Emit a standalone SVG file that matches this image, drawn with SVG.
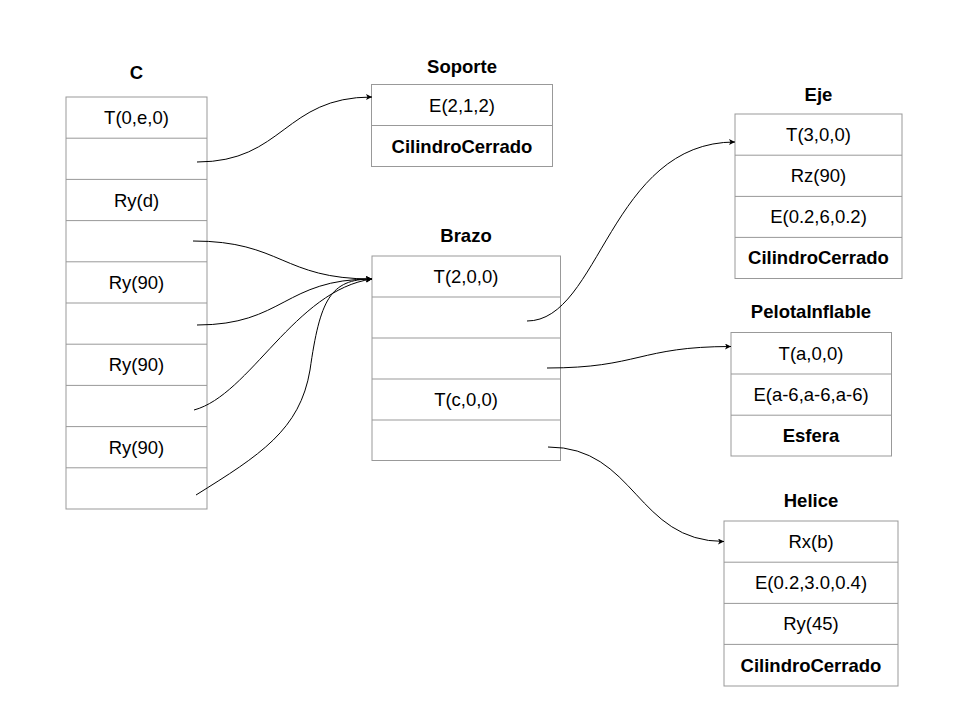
<svg xmlns="http://www.w3.org/2000/svg" width="960" height="720" viewBox="0 0 960 720">
<style>
.box rect { fill: #ffffff; stroke: #999999; stroke-width: 1; }
.box line { stroke: #999999; stroke-width: 1; }
text { font-family: "Liberation Sans", Arial, sans-serif; font-size: 18.5px; fill: #000000; text-anchor: middle; }
.b { font-weight: bold; }
.edge { fill: none; stroke: #000000; stroke-width: 1; marker-end: url(#arr); }
</style>
<defs>
<marker id="arr" viewBox="0 0 10 10" refX="10" refY="5" markerWidth="8" markerHeight="6" markerUnits="userSpaceOnUse" orient="auto">
<path d="M0,0 L10,5 L0,10 L2.5,5 Z" fill="#000000"/>
</marker>
</defs>
<rect width="960" height="720" fill="#ffffff"/>

<g id="C" class="box">
<text class="b" x="136.5" y="78.5">C</text>
<rect x="66" y="97" width="141" height="412"/>
<line x1="66" y1="138.2" x2="207" y2="138.2"/>
<line x1="66" y1="179.4" x2="207" y2="179.4"/>
<line x1="66" y1="220.6" x2="207" y2="220.6"/>
<line x1="66" y1="261.8" x2="207" y2="261.8"/>
<line x1="66" y1="303" x2="207" y2="303"/>
<line x1="66" y1="344.2" x2="207" y2="344.2"/>
<line x1="66" y1="385.4" x2="207" y2="385.4"/>
<line x1="66" y1="426.6" x2="207" y2="426.6"/>
<line x1="66" y1="467.8" x2="207" y2="467.8"/>
<text x="136.5" y="124.2">T(0,e,0)</text>
<text x="136.5" y="206.6">Ry(d)</text>
<text x="136.5" y="289">Ry(90)</text>
<text x="136.5" y="371.4">Ry(90)</text>
<text x="136.5" y="453.8">Ry(90)</text>
</g>

<g id="Soporte" class="box">
<text class="b" x="462" y="73">Soporte</text>
<rect x="371.5" y="84.5" width="181" height="82"/>
<line x1="371.5" y1="125.5" x2="552.5" y2="125.5"/>
<text x="462" y="111.5">E(2,1,2)</text>
<text class="b" x="462" y="152.5">CilindroCerrado</text>
</g>

<g id="Brazo" class="box">
<text class="b" x="466" y="242">Brazo</text>
<rect x="372" y="256" width="188.5" height="204.5"/>
<line x1="372" y1="297" x2="560.5" y2="297"/>
<line x1="372" y1="338" x2="560.5" y2="338"/>
<line x1="372" y1="379" x2="560.5" y2="379"/>
<line x1="372" y1="420" x2="560.5" y2="420"/>
<text x="466" y="283">T(2,0,0)</text>
<text x="466" y="406">T(c,0,0)</text>
</g>

<g id="Eje" class="box">
<text class="b" x="818.5" y="101">Eje</text>
<rect x="735" y="114" width="167" height="164.5"/>
<line x1="735" y1="155.2" x2="902" y2="155.2"/>
<line x1="735" y1="196.4" x2="902" y2="196.4"/>
<line x1="735" y1="237.4" x2="902" y2="237.4"/>
<text x="818.5" y="141">T(3,0,0)</text>
<text x="818.5" y="182.2">Rz(90)</text>
<text x="818.5" y="223.3">E(0.2,6,0.2)</text>
<text class="b" x="818.5" y="264.3">CilindroCerrado</text>
</g>

<g id="PelotaInflable" class="box">
<text class="b" x="811" y="318">PelotaInflable</text>
<rect x="731" y="332.5" width="160.5" height="123.5"/>
<line x1="731" y1="374" x2="891.5" y2="374"/>
<line x1="731" y1="415.2" x2="891.5" y2="415.2"/>
<text x="811" y="359.6">T(a,0,0)</text>
<text x="811" y="401">E(a-6,a-6,a-6)</text>
<text class="b" x="811" y="442">Esfera</text>
</g>

<g id="Helice" class="box">
<text class="b" x="811" y="506.5">Helice</text>
<rect x="724" y="521" width="174" height="165"/>
<line x1="724" y1="562.2" x2="898" y2="562.2"/>
<line x1="724" y1="603.4" x2="898" y2="603.4"/>
<line x1="724" y1="644.4" x2="898" y2="644.4"/>
<text x="811" y="548">Rx(b)</text>
<text x="811" y="589.2">E(0.2,3.0,0.4)</text>
<text x="811" y="630.3">Ry(45)</text>
<text class="b" x="811" y="671.5">CilindroCerrado</text>
</g>

<g id="connectors">
<path class="edge" d="M197,162 C284,162 284,97 372,97"/>
<path class="edge" d="M193,241 C282,241 282,279 372,279"/>
<path class="edge" d="M197,325 C284,325 284,279 372,279"/>
<path class="edge" d="M194,410 C250,395 295,290 372,279"/>
<path class="edge" d="M196,495 C260,455 300,430 310,370 C320,300 330,279 372,279"/>
<path class="edge" d="M527,321 C600,321 610,142 735,142"/>
<path class="edge" d="M547,368 C639,368 639,346.5 731,346.5"/>
<path class="edge" d="M548,447 C636,447 636,541.5 724,541.5"/>
</g>
</svg>
